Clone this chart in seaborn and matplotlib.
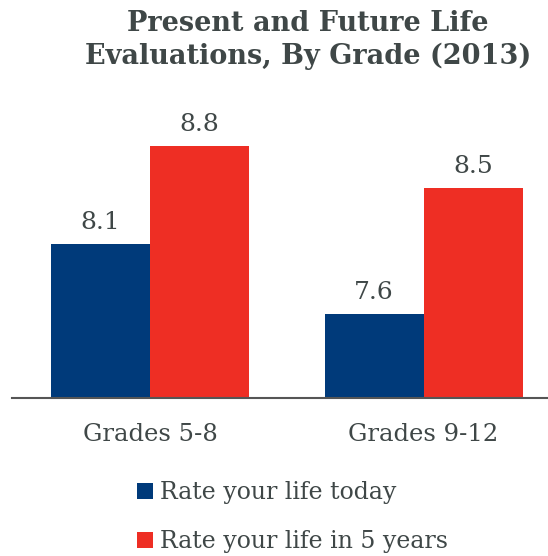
import matplotlib
matplotlib.use("Agg")
import matplotlib.pyplot as plt
import seaborn as sns
import pandas as pd
from matplotlib.patches import Patch

grades = ["Grades 5-8", "Grades 9-12"]
series = ["Rate your life today", "Rate your life in 5 years"]
today = [8.1, 7.6]
future = [8.8, 8.5]
colors = ["#003a7a", "#ee2e24"]

df = pd.DataFrame({
    "grade": grades * 2,
    "series": [series[0]] * 2 + [series[1]] * 2,
    "value": today + future,
})

sns.set_theme(style="white")
plt.rcParams["font.family"] = ["DejaVu Serif"]
txt = "#3f4747"

fig = plt.figure(figsize=(5.48, 5.56), dpi=100)
ax = fig.add_axes([12 / 548, 1 - 398 / 556, 536 / 548, 280 / 556])
sns.barplot(data=df, x="grade", y="value", hue="series", palette=colors,
            width=0.724, ax=ax, legend=False, saturation=1, linewidth=0)
ax.set_ylim(7.0, 9.0)
ax.set_xlim(-0.5046, 1.455)
for c in ax.containers:
    ax.bar_label(c, labels=[f"{v:.1f}" for v in c.datavalues], padding=7,
                 fontsize=18, color=txt)
for s in ["top", "right", "left"]:
    ax.spines[s].set_visible(False)
ax.spines["bottom"].set_color("#555555")
ax.spines["bottom"].set_linewidth(1.5)
ax.set_yticks([])
ax.set_xlabel("")
ax.set_ylabel("")
ax.tick_params(axis="x", length=0, pad=18, labelsize=17.5, labelcolor=txt)

fig.text(0.562, 1 - 40 / 556, "Present and Future Life\nEvaluations, By Grade (2013)",
         ha="center", va="center", fontsize=19.5, fontweight="bold", color=txt,
         linespacing=1.25)

handles = [Patch(facecolor=colors[i], edgecolor="none") for i in range(2)]
fig.legend(handles, series, loc="upper left", bbox_to_anchor=(116 / 548, 1 - 460 / 556),
           frameon=False, fontsize=17, labelcolor=txt, handlelength=0.65,
           handleheight=0.65, handletextpad=0.3, labelspacing=1.1)

fig.savefig("out.png", dpi=100)
